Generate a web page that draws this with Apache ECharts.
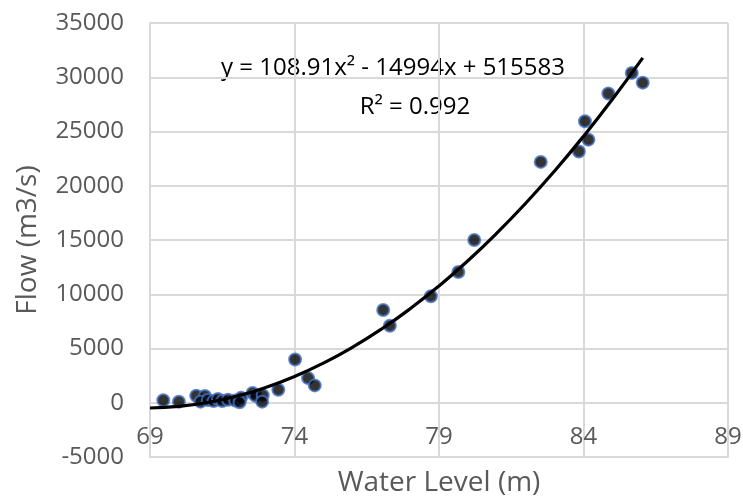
<!DOCTYPE html>
<html>
<head>
<meta charset="utf-8">
<script src="https://cdn.jsdelivr.net/npm/echarts@6/dist/echarts.min.js"></script>
<style>
  html, body { margin: 0; padding: 0; background: #fff; }
  #chart { width: 743px; height: 498px; }
</style>
</head>
<body>
<div id="chart"></div>
<script>
// measured points (water level m, flow m3/s)
var waterLevel = [69.46, 70.0, 70.6, 70.9, 70.75, 71.0, 71.2, 71.35, 71.5, 71.7, 71.95, 72.15, 72.1,
  72.55, 72.65, 72.9, 72.88, 73.44, 74.02, 74.47, 74.7, 77.07, 77.3, 78.72, 79.67, 80.22,
  82.52, 83.84, 84.17, 84.05, 84.86, 85.67, 86.05];
var flow = [230, 100, 650, 620, 100, 250, 150, 350, 150, 280, 200, 450, 50,
  900, 650, 700, 100, 1200, 3980, 2270, 1600, 8550, 7100, 9820, 12050, 15000,
  22200, 23150, 24250, 25950, 28500, 30400, 29500];

// polynomial trendline
var trendX = [69, 70, 71, 72, 73, 74, 75, 76, 77, 78, 79, 80, 81, 82, 83, 84, 85, 86.05];
var trendY = [-483, -338, 24, 604, 1402, 2418, 3652, 5104, 6773, 8660, 10765, 13088,
  15629, 18387, 21363, 24558, 27969, 31787];

var xTicks = [69, 74, 79, 84, 89];
var equationText = 'y = 108.91x² - 14994x + 515583';
var r2Text = 'R² = 0.992';

var chart = echarts.init(document.getElementById('chart'));
var font = 'Open Sans';
var grey = '#595959';
var gridGrey = '#d9d9d9';

var points = waterLevel.map(function (x, i) { return [x, flow[i]]; });
var trend = trendX.map(function (x, i) { return [x, trendY[i]]; });

chart.setOption({
  animation: false,
  grid: { left: 150, right: 15, top: 23, bottom: 41, containLabel: false, outerBoundsMode: 'none' },
  xAxis: {
    type: 'value',
    min: xTicks[0],
    max: xTicks[xTicks.length - 1],
    interval: 5,
    name: 'Water Level (m)',
    nameLocation: 'middle',
    nameGap: 12,
    nameTextStyle: { fontFamily: font, fontSize: 28, color: grey },
    axisLine: { onZero: false, lineStyle: { color: gridGrey, width: 2 } },
    axisTick: { show: false },
    // labels sit just under the zero line, as in the source chart
    axisLabel: {
      fontFamily: font, fontSize: 24, color: grey, margin: -32,
      formatter: function (v) { return String(v); }
    },
    splitLine: { show: true, lineStyle: { color: gridGrey, width: 2 } }
  },
  yAxis: {
    type: 'value',
    min: -5000,
    max: 35000,
    interval: 5000,
    name: 'Flow (m3/s)',
    nameLocation: 'middle',
    nameGap: 108,
    nameTextStyle: { fontFamily: font, fontSize: 28, color: grey },
    axisLine: { show: true, onZero: false, lineStyle: { color: gridGrey, width: 2 } },
    axisTick: { show: false },
    axisLabel: {
      fontFamily: font, fontSize: 24, color: grey, margin: 26,
      formatter: function (v) { return String(v); }
    },
    splitLine: { show: true, lineStyle: { color: gridGrey, width: 2 } }
  },
  series: [
    {
      type: 'scatter',
      data: points,
      symbol: 'circle',
      symbolSize: 12,
      itemStyle: { color: '#000', borderColor: '#4472c4', borderWidth: 2 }
    },
    {
      type: 'line',
      data: trend,
      smooth: true,
      showSymbol: false,
      lineStyle: { color: '#000', width: 3.2 },
      z: 3
    }
  ],
  graphic: [
    {
      type: 'text',
      x: 393,
      y: 56,
      style: { text: equationText, fontFamily: font, fontSize: 24, fill: '#000', align: 'center' }
    },
    {
      type: 'text',
      x: 415,
      y: 95,
      style: { text: r2Text, fontFamily: font, fontSize: 24, fill: '#000', align: 'center' }
    }
  ]
});
</script>
</body>
</html>
